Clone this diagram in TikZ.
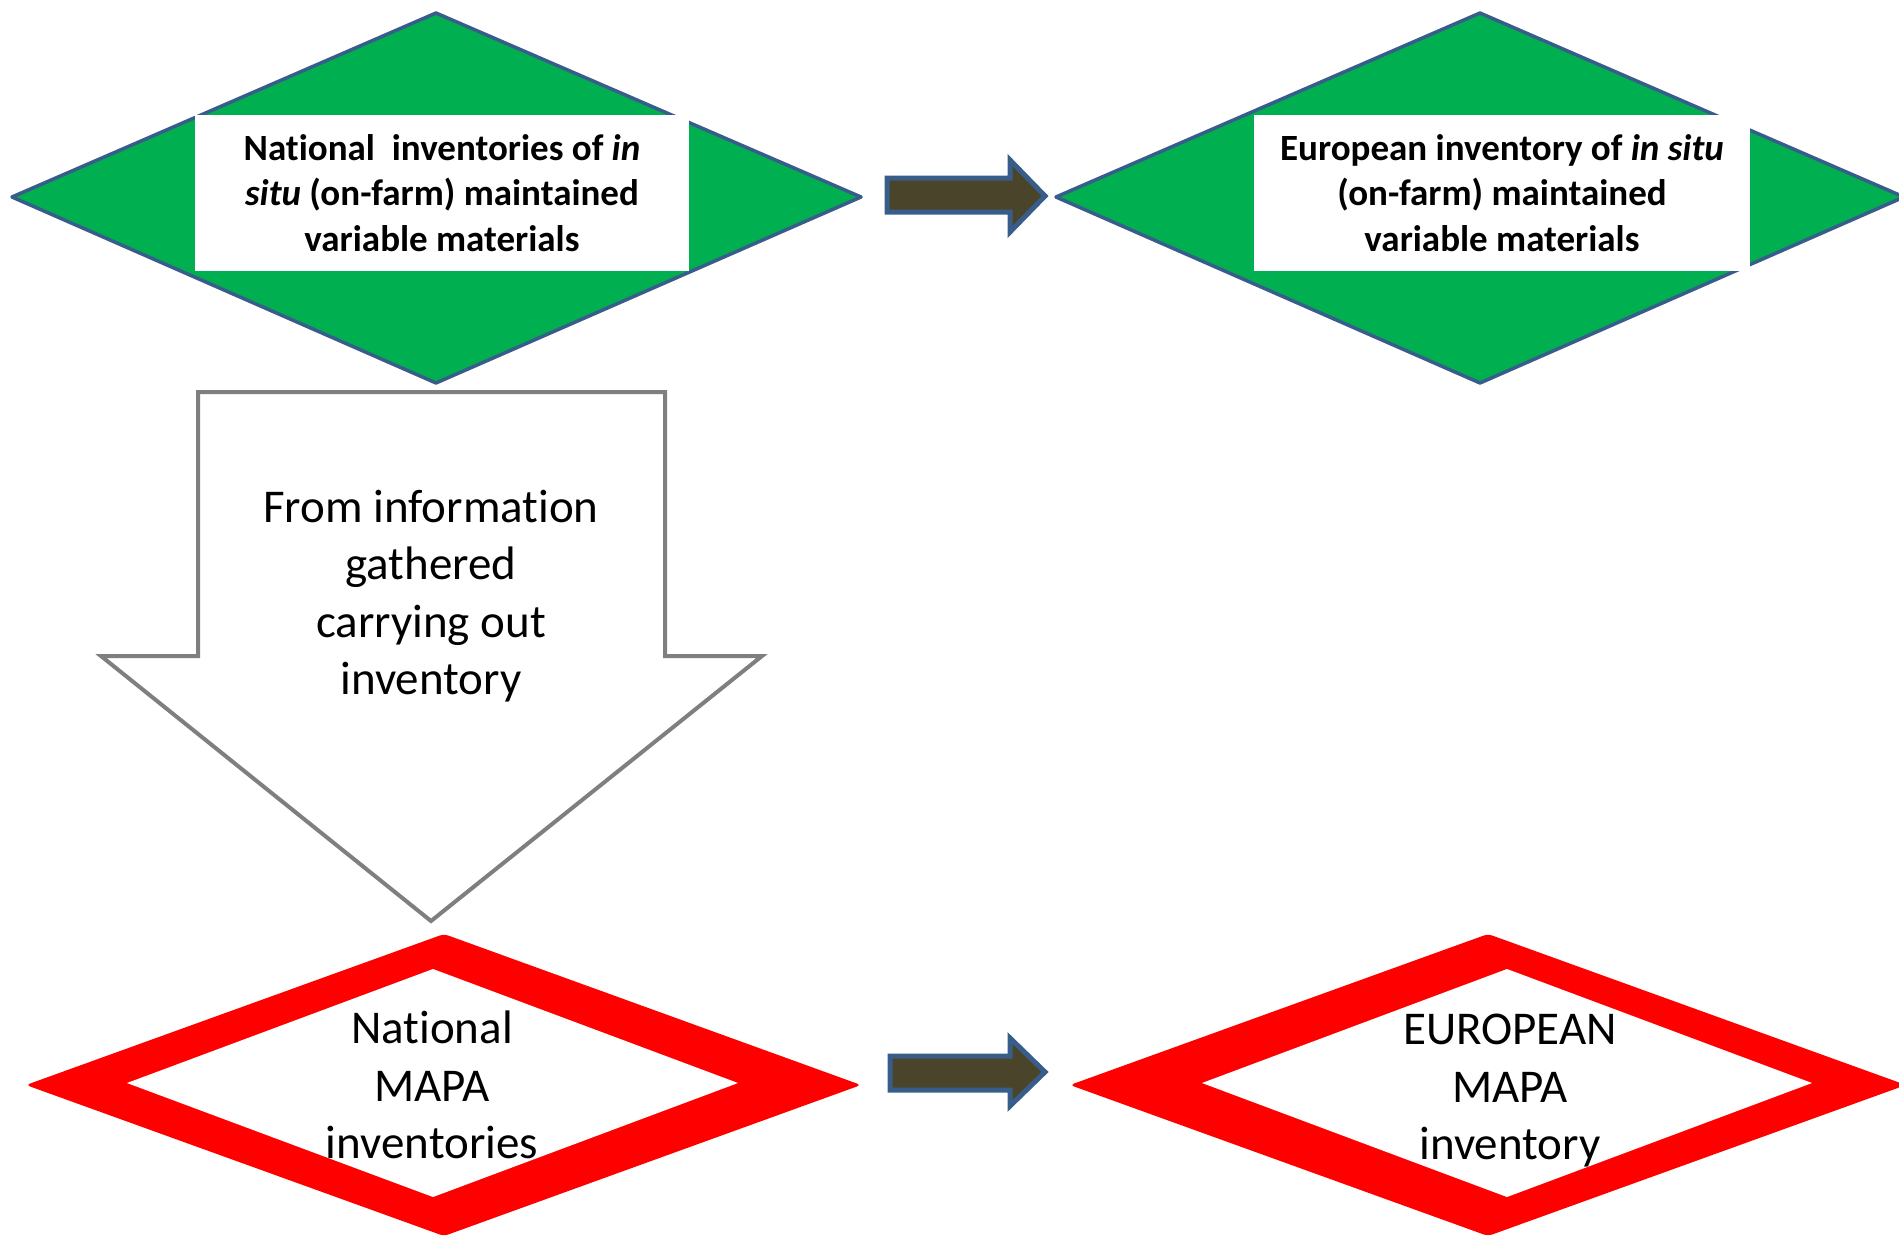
\documentclass[tikz,border=0pt]{standalone}
\usepackage{fontspec}
\setmainfont[Ligatures=NoCommon]{Carlito}
\definecolor{greenfill}{HTML}{00B050}
\definecolor{blueline}{HTML}{385D8A}
\definecolor{olivefill}{HTML}{4A452A}
\definecolor{grayline}{HTML}{7F7F7F}
\definecolor{redfill}{HTML}{FF0000}
\tikzset{
  greendiamond/.style={fill=greenfill, draw=blueline, line width=3.5pt, line join=round},
  whitebox/.style={fill=white, inner sep=0pt, align=center, minimum width=494pt, minimum height=156pt,
    font=\fontsize{37}{45.5}\selectfont\bfseries},
  blockarrow/.style={fill=olivefill, draw=blueline, line width=5pt, line join=miter},
  grayarrow/.style={fill=white, draw=grayline, line width=4pt, line join=miter},
  bigtext/.style={inner sep=0pt, align=center, font=\fontsize{47}{57.5}\selectfont},
  redouter/.style={fill=redfill, rounded corners=4pt},
  redinner/.style={fill=white}
}
\begin{document}
\begin{tikzpicture}[x=1pt,y=-1pt]
\useasboundingbox (0,0) rectangle (1899,1235);
\clip (0,0) rectangle (1899,1235);

% green diamonds
\draw[greendiamond] (12,197) -- (436,13) -- (861,197) -- (436,383) -- cycle;
\node[whitebox] (natinv) at (442,193) {National~ inventories of \textit{in}\\ \textit{situ} (on-farm) maintained\\ variable materials};

\draw[greendiamond] (1056,197) -- (1480,13) -- (1904,197) -- (1480,383) -- cycle;
\node[whitebox, minimum width=496pt] (eurinv) at (1502,193) {European inventory of \textit{in situ}\\ (on-farm) maintained\\ variable materials};

% block arrows
\draw[blockarrow] (887,178) -- (1010,178) -- (1010,160) -- (1045,196) -- (1010,232) -- (1010,212) -- (887,212) -- cycle;
\draw[blockarrow] (890,1056) -- (1010,1056) -- (1010,1038) -- (1045,1072) -- (1010,1106) -- (1010,1090) -- (890,1090) -- cycle;

% down arrow
\draw[grayarrow] (198,392) -- (665,392) -- (665,656) -- (762,656) -- (431,921) -- (101,656) -- (198,656) -- cycle;
\node[bigtext] (fromtxt) at (431,596) {From information\\ gathered\\ carrying out\\ inventory};

% red diamonds
\fill[redouter] (26,1085) -- (444,934) -- (861,1085) -- (444,1236) -- cycle;
\fill[redinner] (127,1083) -- (433,969) -- (738,1083) -- (433,1197) -- cycle;
\node[bigtext] (natmapa) at (432,1085) {National\\ MAPA\\ inventories};

\fill[redouter] (1070,1085) -- (1488,934) -- (1906,1085) -- (1488,1236) -- cycle;
\fill[redinner] (1202,1083) -- (1507,969) -- (1812,1083) -- (1507,1197) -- cycle;
\node[bigtext] (eurmapa) at (1510,1091) {EUROPEAN\\ MAPA\\ inventory};
\end{tikzpicture}
\end{document}
